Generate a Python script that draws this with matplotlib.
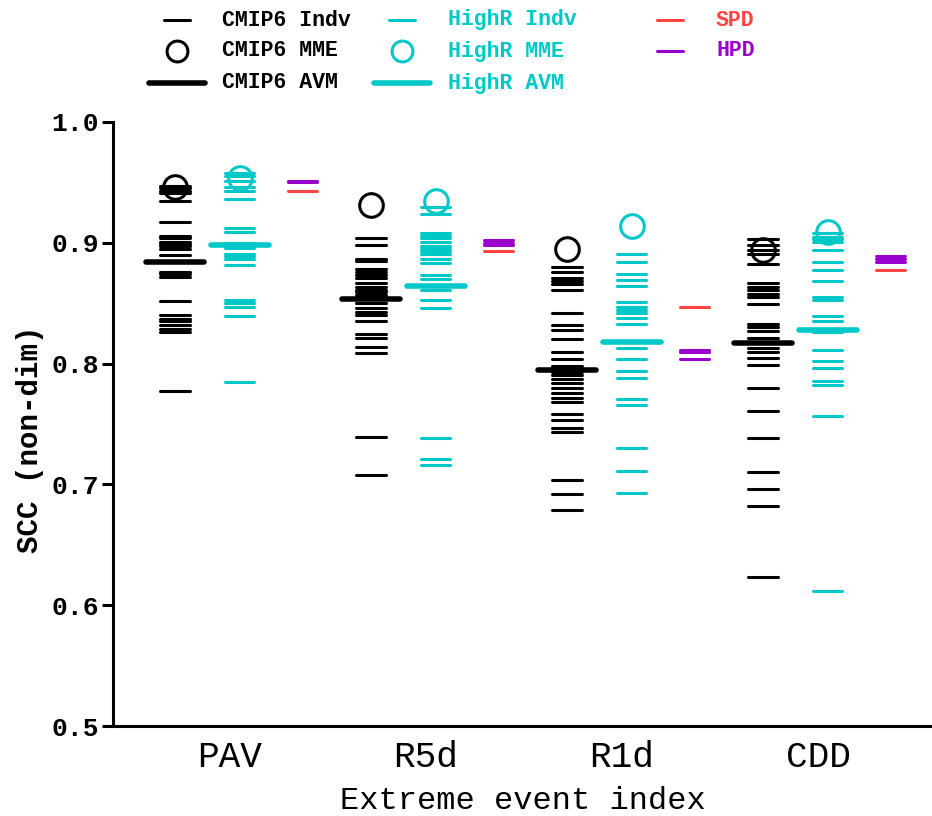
import matplotlib
matplotlib.use("Agg")
import matplotlib.pyplot as plt
from matplotlib.lines import Line2D

# index names
indices = ["PAV", "R5d", "R1d", "CDD"]

# CMIP6 individual models (SCC) per index
cmip6_pav = [0.947, 0.945, 0.943, 0.941, 0.935, 0.9175, 0.906, 0.904, 0.901, 0.899,
             0.897, 0.895, 0.890, 0.876, 0.874, 0.872, 0.852, 0.840, 0.837, 0.835,
             0.832, 0.829, 0.826, 0.777]
cmip6_r5d = [0.904, 0.898, 0.887, 0.885, 0.878, 0.876, 0.873, 0.871, 0.867, 0.863,
             0.861, 0.859, 0.857, 0.855, 0.850, 0.846, 0.843, 0.840, 0.835, 0.8245,
             0.821, 0.814, 0.8085, 0.739, 0.708]
cmip6_r1d = [0.880, 0.8756, 0.871, 0.868, 0.866, 0.861, 0.842, 0.832, 0.828, 0.820,
             0.810, 0.8035, 0.798, 0.793, 0.7906, 0.787, 0.784, 0.780, 0.7754, 0.7713,
             0.7685, 0.758, 0.753, 0.7464, 0.7436, 0.704, 0.692, 0.679]
cmip6_cdd = [0.903, 0.898, 0.894, 0.8905, 0.8825, 0.8665, 0.8637, 0.861, 0.858, 0.855,
             0.849, 0.8328, 0.830, 0.8273, 0.821, 0.8126, 0.8093, 0.805, 0.799, 0.780,
             0.761, 0.7384, 0.710, 0.6965, 0.682, 0.6236]

# HighResMIP individual models
highr_pav = [0.958, 0.955, 0.951, 0.946, 0.943, 0.936, 0.912, 0.909, 0.900, 0.898,
             0.896, 0.891, 0.889, 0.887, 0.882, 0.853, 0.850, 0.847, 0.839, 0.785]
highr_r5d = [0.930, 0.924, 0.908, 0.906, 0.904, 0.901, 0.897, 0.895, 0.893, 0.891,
             0.887, 0.883, 0.873, 0.870, 0.864, 0.861, 0.853, 0.846, 0.738, 0.721, 0.716]
highr_r1d = [0.8905, 0.884, 0.874, 0.869, 0.864, 0.851, 0.8466, 0.8444, 0.842, 0.8375,
             0.8325, 0.818, 0.813, 0.8035, 0.794, 0.7884, 0.7707, 0.7655, 0.730, 0.711, 0.693]
highr_cdd = [0.908, 0.905, 0.903, 0.901, 0.894, 0.884, 0.8775, 0.868, 0.8555, 0.853,
             0.8394, 0.8353, 0.8283, 0.8262, 0.811, 0.8024, 0.796, 0.7856, 0.7823, 0.757, 0.6118]

cmip6_mme = [0.946, 0.931, 0.895, 0.894]
highr_mme = [0.954, 0.935, 0.914, 0.909]
cmip6_avm = [0.884, 0.8535, 0.795, 0.8173]
highr_avm = [0.898, 0.864, 0.818, 0.828]

spd = [0.943, 0.893, 0.8466, 0.8775]
hpd_pav = [0.9515, 0.9500]
hpd_r5d = [0.902, 0.900, 0.898]
hpd_r1d = [0.8115, 0.810, 0.8035]
hpd_cdd = [0.889, 0.8866, 0.8844]

cmip6_indv = [cmip6_pav, cmip6_r5d, cmip6_r1d, cmip6_cdd]
highr_indv = [highr_pav, highr_r5d, highr_r1d, highr_cdd]
hpd = [hpd_pav, hpd_r5d, hpd_r1d, hpd_cdd]

BLACK = "black"
CYAN = "#00c8c8"
RED = "#ff4444"
PURPLE = "#9900cc"
MONO = "Liberation Mono"

fig = plt.figure(figsize=(9.32, 8.16), dpi=100)
ax = fig.add_axes([113 / 932, 90 / 816, 819 / 932, 604 / 816])

off_c, off_h, off_o = -0.28, 0.05, 0.37
hw, hw_avm = 0.075, 0.148

for i in range(len(indices)):
    xc, xh, xo = i + off_c, i + off_h, i + off_o
    ax.hlines(cmip6_indv[i], xc - hw, xc + hw, color=BLACK, lw=2.2, capstyle="round")
    ax.hlines(highr_indv[i], xh - hw, xh + hw, color=CYAN, lw=2.2, capstyle="round")
    ax.hlines(cmip6_avm[i], xc - hw_avm, xc + hw_avm, color=BLACK, lw=4, capstyle="round", zorder=3)
    ax.hlines(highr_avm[i], xh - hw_avm, xh + hw_avm, color=CYAN, lw=4, capstyle="round", zorder=3)
    ax.hlines(spd[i], xo - hw, xo + hw, color=RED, lw=2.2, capstyle="round")
    ax.hlines(hpd[i], xo - hw, xo + hw, color=PURPLE, lw=2.2, capstyle="round")
    ax.plot(xc, cmip6_mme[i], marker="o", ms=17, mfc="none", mec=BLACK, mew=2.2, zorder=4)
    ax.plot(xh, highr_mme[i], marker="o", ms=17, mfc="none", mec=CYAN, mew=2.2, zorder=4)

ax.set_xlim(-0.597, 3.582)
ax.set_ylim(0.5, 1.0)
ax.set_yticks([0.5, 0.6, 0.7, 0.8, 0.9, 1.0])
ax.set_yticklabels(["0.5", "0.6", "0.7", "0.8", "0.9", "1.0"],
                   fontfamily=MONO, fontweight="bold", fontsize=19)
ax.set_xticks(range(len(indices)))
ax.set_xticklabels(indices, fontfamily=MONO, fontsize=26)
ax.tick_params(axis="x", length=0, pad=10)
ax.tick_params(axis="y", length=8, width=2.2, pad=2)
for s in ["top", "right"]:
    ax.spines[s].set_visible(False)
for s in ["left", "bottom"]:
    ax.spines[s].set_linewidth(2.2)

ax.set_ylabel("SCC (non-dim)", fontfamily=MONO, fontweight="bold", fontsize=21)
ax.yaxis.set_label_coords(-0.084, 0.474)
ax.set_xlabel("Extreme event index", fontfamily=MONO, fontsize=23, labelpad=8)

# legend drawn by hand in pixel positions
tr = fig.dpi_scale_trans


def P(x, y):
    return x / 100, (816 - y) / 100


rows = [20, 51, 83]
legend_items = [
    (177, 222, rows[0], "indv", BLACK, "CMIP6 Indv"),
    (177, 222, rows[1], "mme", BLACK, "CMIP6 MME"),
    (177, 222, rows[2], "avm", BLACK, "CMIP6 AVM"),
    (402, 448, rows[0], "indv", CYAN, "HighR Indv"),
    (402, 448, rows[1], "mme", CYAN, "HighR MME"),
    (402, 448, rows[2], "avm", CYAN, "HighR AVM"),
    (670, 716, rows[0], "indv", RED, "SPD"),
    (670, 716, rows[1], "indv", PURPLE, "HPD"),
]
for hx, tx, y, kind, col, label in legend_items:
    if kind == "indv":
        x0, y0 = P(hx - 13, y)
        x1, _ = P(hx + 13, y)
        fig.add_artist(Line2D([x0, x1], [y0, y0], transform=tr, color=col, lw=2.2,
                              solid_capstyle="round"))
    elif kind == "avm":
        x0, y0 = P(hx - 28, y)
        x1, _ = P(hx + 28, y)
        fig.add_artist(Line2D([x0, x1], [y0, y0], transform=tr, color=col, lw=4,
                              solid_capstyle="round"))
    else:
        x0, y0 = P(hx, y)
        fig.add_artist(Line2D([x0], [y0], transform=tr, marker="o", ms=15, mfc="none",
                              mec=col, mew=2.2))
    tx0, ty0 = P(tx, y)
    fig.text(tx0, ty0, label, transform=tr, color=col, fontfamily=MONO,
             fontweight="bold", fontsize=15.5, va="center", ha="left")

fig.savefig("out.png", dpi=100)
